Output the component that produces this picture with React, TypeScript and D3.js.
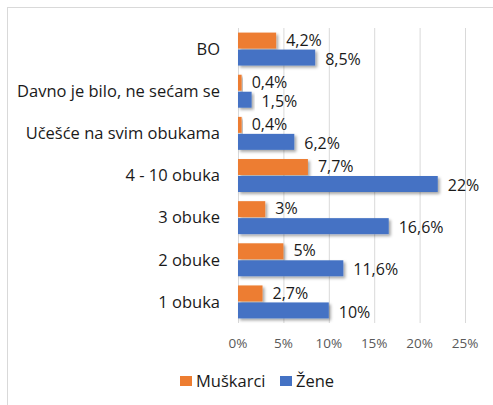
import React, { useRef, useEffect } from "react";
import * as d3 from "d3";

const categories = [
  "BO",
  "Davno je bilo, ne sećam se",
  "Učešće na svim obukama",
  "4 - 10 obuka",
  "3 obuke",
  "2 obuke",
  "1 obuka",
];
const muskarci = [4.2, 0.4, 0.4, 7.7, 3, 5, 2.7];
const zene = [8.5, 1.5, 6.2, 22, 16.6, 11.6, 10];
const ticks = [0, 5, 10, 15, 20, 25];
const seriesNames = ["Muškarci", "Žene"];
const colors = ["#ED7D31", "#4472C4"];

const fmt = (v: number) => String(v).replace(".", ",") + "%";

const App = () => {
  const svgRef = useRef<SVGSVGElement>(null);

  useEffect(() => {
    const width = 493;
    const height = 405;
    const svg = d3.select(svgRef.current);
    svg.selectAll("*").remove();
    svg.attr("width", width).attr("height", height);

    const font = "'Open Sans', 'Noto Sans', sans-serif";

    const defs = svg.append("defs");
    const f = defs
      .append("filter")
      .attr("id", "shadow")
      .attr("x", "-10%")
      .attr("y", "-30%")
      .attr("width", "130%")
      .attr("height", "190%");
    f.append("feDropShadow")
      .attr("dx", 2)
      .attr("dy", 2)
      .attr("stdDeviation", 1.5)
      .attr("flood-color", "#000")
      .attr("flood-opacity", 0.35);

    // chart border
    svg
      .append("rect")
      .attr("x", 7.5)
      .attr("y", 7.5)
      .attr("width", 500)
      .attr("height", 420)
      .attr("fill", "#fff")
      .attr("stroke", "#d9d9d9");

    const x = d3.scaleLinear().domain([0, 25]).range([238, 465]);
    const y = d3.scaleBand().domain(categories).range([28, 323]).padding(0);
    const sub = d3
      .scaleBand<number>()
      .domain([0, 1])
      .range([0, y.bandwidth()])
      .paddingInner(0.06)
      .paddingOuter(0.27);

    // gridlines
    svg
      .append("g")
      .selectAll("line")
      .data(ticks)
      .enter()
      .append("line")
      .attr("x1", (d) => x(d) + 0.5)
      .attr("x2", (d) => x(d) + 0.5)
      .attr("y1", 28)
      .attr("y2", 323)
      .attr("stroke", "#d9d9d9");

    // tick labels
    svg
      .append("g")
      .selectAll("text")
      .data(ticks)
      .enter()
      .append("text")
      .attr("x", (d) => x(d))
      .attr("y", 343)
      .attr("dy", "0.35em")
      .attr("text-anchor", "middle")
      .attr("font-family", font)
      .attr("font-size", 13.5)
      .attr("fill", "#595959")
      .text((d) => d + "%");

    // category labels
    svg
      .append("g")
      .selectAll("text")
      .data(categories)
      .enter()
      .append("text")
      .attr("x", 220)
      .attr("y", (d) => (y(d) as number) + y.bandwidth() / 2)
      .attr("dy", "0.35em")
      .attr("text-anchor", "end")
      .attr("font-family", font)
      .attr("font-size", 16.5)
      .attr("fill", "#1a1a1a")
      .text((d) => d);

    const series = [muskarci, zene];
    series.forEach((vals, si) => {
      const g = svg.append("g");
      g.selectAll("rect")
        .data(vals)
        .enter()
        .append("rect")
        .attr("x", x(0))
        .attr("y", (d, i) => (y(categories[i]) as number) + (sub(si) as number))
        .attr("width", (d) => x(d) - x(0))
        .attr("height", sub.bandwidth())
        .attr("fill", colors[si])
        .attr("filter", "url(#shadow)");
      g.selectAll("text")
        .data(vals)
        .enter()
        .append("text")
        .attr("x", (d) => x(d) + 10)
        .attr(
          "y",
          (d, i) =>
            (y(categories[i]) as number) +
            (sub(si) as number) +
            sub.bandwidth() / 2 +
            (si === 0 ? -0.5 : 1.5)
        )
        .attr("dy", "0.35em")
        .attr("font-family", font)
        .attr("font-size", 16)
        .attr("fill", "#1a1a1a")
        .text((d) => fmt(d));
    });

    // legend
    const legend = svg.append("g");
    const lx = [180, 280];
    seriesNames.forEach((name, i) => {
      legend
        .append("rect")
        .attr("x", lx[i])
        .attr("y", 376)
        .attr("width", 12)
        .attr("height", 10)
        .attr("fill", colors[i]);
      legend
        .append("text")
        .attr("x", lx[i] + 16)
        .attr("y", 381)
        .attr("dy", "0.35em")
        .attr("font-family", font)
        .attr("font-size", 16.5)
        .attr("fill", "#1a1a1a")
        .text(name);
    });
  }, []);

  return <svg ref={svgRef} style={{ position: "absolute", left: 0, top: 0 }}></svg>;
};

export default App;
